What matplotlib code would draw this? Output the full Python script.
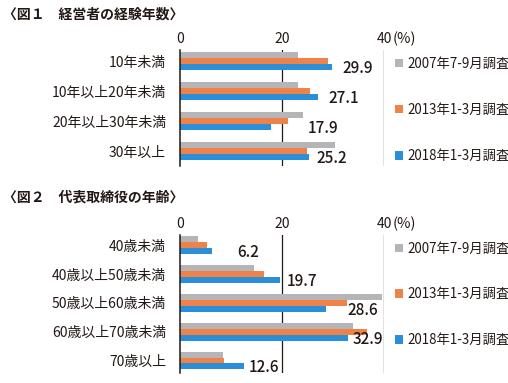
import numpy as np
import matplotlib
matplotlib.use("Agg")
import matplotlib.pyplot as plt

plt.rcParams['font.family'] = ['Noto Sans CJK JP', 'DejaVu Sans']

# 図1 経営者の経験年数
cat1 = ['10年未満', '10年以上20年未満', '20年以上30年未満', '30年以上']
s2007_1 = [23.2, 23.1, 24.2, 30.3]
s2013_1 = [29.1, 25.4, 21.1, 24.9]
s2018_1 = [29.9, 27.1, 17.9, 25.2]

# 図2 代表取締役の年齢
cat2 = ['40歳未満', '40歳以上50歳未満', '50歳以上60歳未満', '60歳以上70歳未満', '70歳以上']
s2007_2 = [3.5, 14.6, 39.6, 33.9, 8.5]
s2013_2 = [5.2, 16.5, 32.8, 36.7, 8.7]
s2018_2 = [6.2, 19.7, 28.6, 32.9, 12.6]

series_names = ['2007年7-9月調査', '2013年1-3月調査', '2018年1-3月調査']
colors = ['#b5b5b7', '#ef8249', '#2a8fd8']
txt = '#231815'

# where the value labels sit (x in %)
lab_x1 = [31.8, 29.2, 25.1, 26.8]
lab_x2 = [11.2, 21.0, 32.8, 33.8, 13.4]

W, H = 508, 383
fig = plt.figure(figsize=(W / 100, H / 100), dpi=100)


def draw(ax, cats, vals, labx, h, ylim, leg_top, lsp):
    y = np.arange(len(cats))
    bars = []
    for i, v in enumerate(vals):
        b = ax.barh(y + (i - 1) * h, v, height=h, color=colors[i],
                    label=series_names[i], zorder=3)
        bars.append(b)
    for yy, v, lx in zip(y, vals[2], labx):
        ax.text(lx, yy + h + 0.05, f'{v:.1f}', ha='left', va='center',
                fontsize=11, color=txt, fontweight='medium')
    ax.set_xlim(0, 40)
    ax.set_ylim(*ylim)
    ax.set_yticks(y)
    ax.set_yticklabels(cats, fontsize=10, color=txt)
    ax.xaxis.tick_top()
    ax.set_xticks([0, 20, 40])
    ax.set_xticklabels(['0', '20', '40'], fontsize=10, color=txt)
    ax.tick_params(axis='both', length=0)
    ax.tick_params(axis='x', pad=3)
    ax.tick_params(axis='y', pad=10)
    for s in ['top', 'right', 'bottom']:
        ax.spines[s].set_visible(False)
    ax.spines['left'].set_color(txt)
    ax.spines['left'].set_linewidth(1.1)
    ax.spines['left'].set_zorder(4)
    for gx in [20, 40]:
        ax.axvline(gx, color=txt, lw=0.9, zorder=1)
    # "(%)" just right of the 40 tick label
    ax.annotate('(%)', xy=(40, 1.0), xycoords=ax.get_xaxis_transform(),
                xytext=(6, 3), textcoords='offset points',
                fontsize=10.5, color=txt, ha='left', va='bottom')
    ax.legend(handles=bars, loc='upper left',
              bbox_to_anchor=(395 / W, leg_top), bbox_transform=fig.transFigure,
              frameon=False, fontsize=9.6, handlelength=0.6, handleheight=0.6,
              handletextpad=0.3, labelspacing=lsp, borderpad=0, borderaxespad=0,
              labelcolor=txt)


ax1 = fig.add_axes([180 / W, 1 - 166 / H, 204 / W, 116 / H])
draw(ax1, cat1, [s2007_1, s2013_1, s2018_1], lab_x1, 0.2, (3.5, -0.367), 1 - 56.5 / H, 2.42)

ax2 = fig.add_axes([180 / W, 1 - 373 / H, 204 / W, 138 / H])
draw(ax2, cat2, [s2007_2, s2013_2, s2018_2], lab_x2, 0.208, (4.434, -0.358), 1 - 241.5 / H, 2.38)

fig.text(3 / W, 1 - 14 / H, '〈図１　経営者の経験年数〉', fontsize=10, fontweight='bold',
         color=txt, ha='left', va='center')
fig.text(3 / W, 1 - 198 / H, '〈図２　代表取締役の年齢〉', fontsize=10, fontweight='bold',
         color=txt, ha='left', va='center')

fig.savefig('out.png', dpi=100)
